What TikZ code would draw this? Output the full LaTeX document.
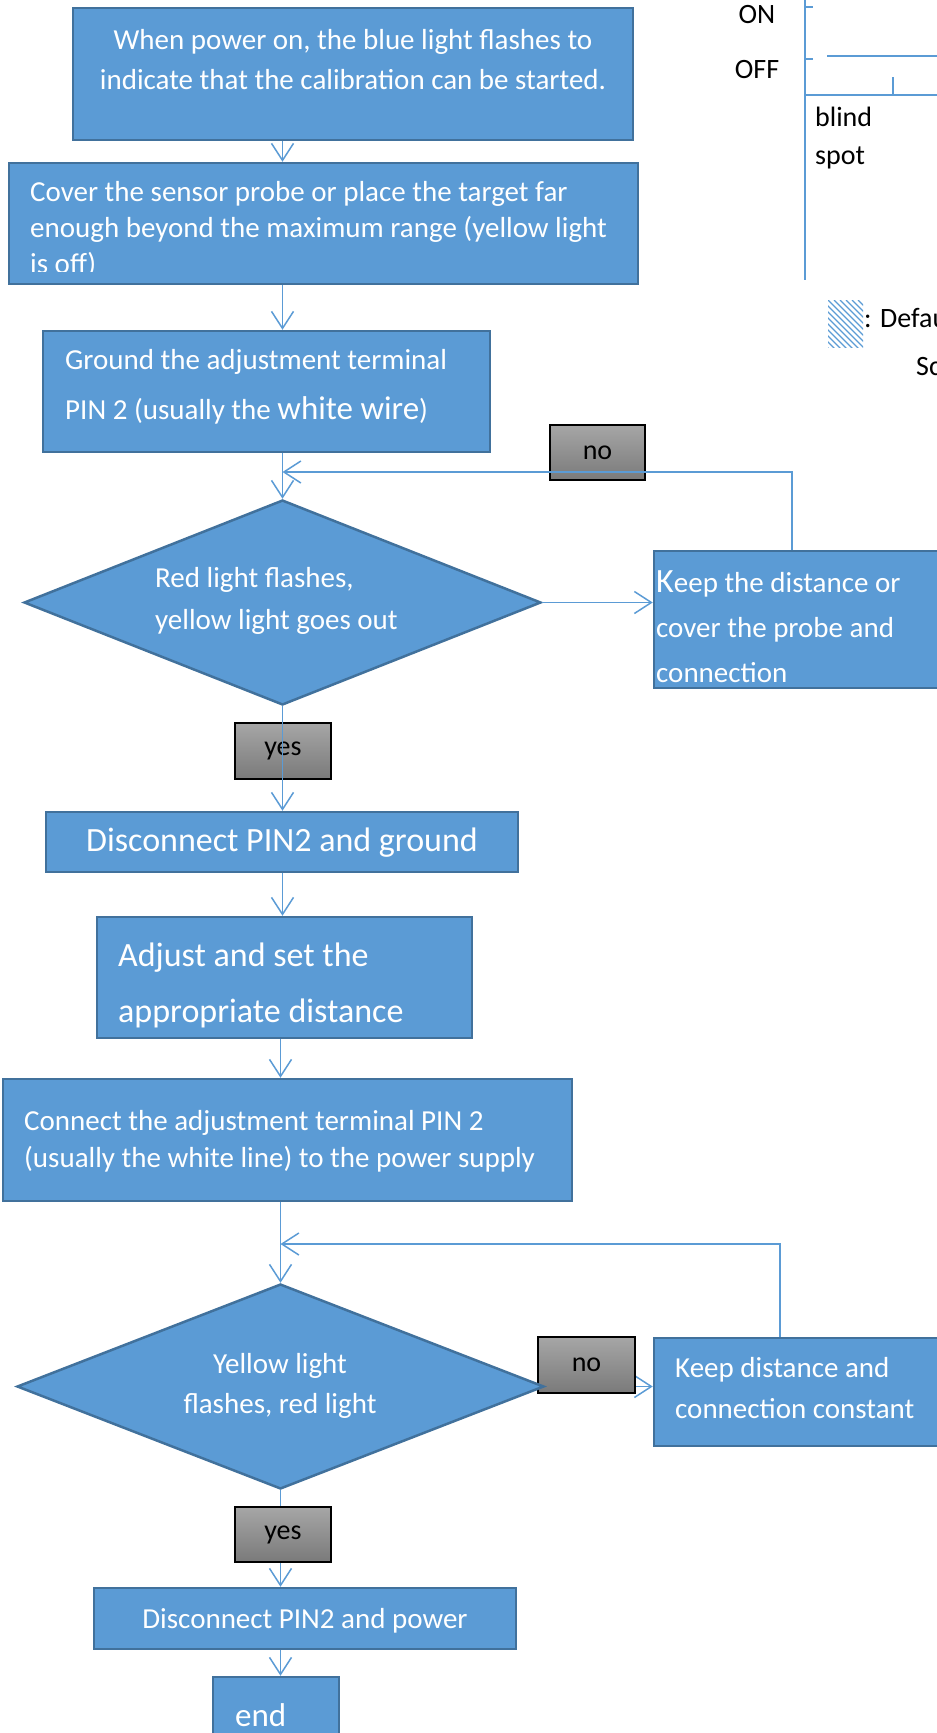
\documentclass[tikz,border=0pt]{standalone}
\usepackage{fontspec}
\setmainfont{Carlito}
\usetikzlibrary{arrows.meta,shapes.geometric,calc}
\definecolor{boxblue}{HTML}{5B9BD5}
\definecolor{boxedge}{HTML}{41719C}
\definecolor{gtop}{HTML}{A6A6A6}
\definecolor{gbot}{HTML}{7A7A7A}
\newcommand\fsz[2]{\fontsize{#1}{#2}\selectfont}
\pgfdeclarelayer{bg}
\pgfsetlayers{bg,main}
\tikzset{
 stepbox/.style={draw=boxedge, fill=boxblue, line width=2.5pt, inner sep=0pt},
 decbox/.style={stepbox, shape=diamond},
 lbl/.style={draw=black, line width=2pt, top color=gtop, bottom color=gbot, inner sep=0pt, font=\fsz{28}{34}, text=black},
 wtxt/.style={text=white, inner sep=0pt},
 btxt/.style={text=black, inner sep=0pt, font=\fsz{28}{34}},
 conn/.style={draw=boxblue, line width=1.5pt, -{Straight Barb[length=17pt,width=22pt,line width=1.5pt]}},
 plain/.style={draw=boxblue, line width=1.7pt},
}
\begin{document}
\begin{tikzpicture}[x=1pt,y=-1pt]
\useasboundingbox (0,0) rectangle (937,1733);
\clip (0,0) rectangle (937,1733);

% ---------- top-right chart fragment ----------
\draw[plain] (805,0) -- (805,280);
\draw[plain] (805,7) -- (813,7);
\draw[plain] (805,59) -- (813,59);
\draw[plain] (805,95) -- (945,95);
\draw[plain] (827,56) -- (945,56);
\draw[plain] (893,77) -- (893,95);
\node[btxt] (on) at (757,15) {ON};
\node[btxt] (off) at (757,70) {OFF};
\node[btxt, anchor=west] (blind) at (815,117) {blind};
\node[btxt, anchor=west] (spot) at (815,158) {spot};
\begin{scope}
\clip (828,300) rectangle (863,347);
\foreach \k in {-66,-60,...,40} \draw[boxblue, line width=1.2pt] (828+\k,300) -- ++(60,60);
\end{scope}
\node[btxt, anchor=west] (def) at (864,318) {: Default};
\node[btxt, anchor=west] (sc) at (916,367) {Sc};

% ---------- boxes ----------
\node[stepbox, minimum width=560pt, minimum height=132pt] (b1) at (353,74) {};
\node[wtxt, font=\fsz{29}{40}, align=center] (t1) at (353,60) {When power on, the blue light flashes to\\indicate that the calibration can be started.};

\node[stepbox, minimum width=629pt, minimum height=121pt] (b2) at (323.5,223.5) {};
\begin{scope}
\clip (9,163) rectangle (638,271.5);
\node[wtxt, font=\fsz{29}{36}, align=left, anchor=west] (t2) at (30,229) {Cover the sensor probe or place the target far\\enough beyond the maximum range (yellow light\\is off)};
\end{scope}

\node[stepbox, minimum width=447pt, minimum height=121pt] (b3) at (266.5,391.5) {};
\node[wtxt, font=\fsz{29}{50}, align=left, anchor=west] (t3) at (65,387) {Ground the adjustment terminal\\PIN 2 (usually the {\fsz{33}{50}white wire})};

\node[lbl, minimum width=95pt, minimum height=55pt] (no1) at (597.5,452.5) {no};

\node[decbox, minimum width=517pt, minimum height=205pt] (d1) at (282.5,602.5) {};
\node[wtxt, font=\fsz{29}{42}, align=left, anchor=west] (td1) at (155,601) {Red light flashes,\\yellow light goes out};

\node[stepbox, minimum width=291pt, minimum height=137pt] (k1) at (799.5,619.5) {};
\node[wtxt, font=\fsz{29}{45}, align=left, anchor=west] (tk1) at (656,627) {{\fsz{34}{45}K}eep the distance or\\cover the probe and\\connection};

\node[lbl, minimum width=96pt, minimum height=56pt] (yes1) at (283,751) {yes};

\node[stepbox, minimum width=472pt, minimum height=60pt] (b4) at (282,842) {};
\node[wtxt, font=\fsz{34}{40}] (t4) at (282,843) {Disconnect PIN2 and ground};

\node[stepbox, minimum width=375pt, minimum height=121pt] (b5) at (284.5,977.5) {};
\node[wtxt, font=\fsz{34}{56}, align=left, anchor=west] (t5) at (118,985) {Adjust and set the\\appropriate distance};

\node[stepbox, minimum width=569pt, minimum height=122pt] (b6) at (287.5,1140) {};
\node[wtxt, font=\fsz{29}{37}, align=left, anchor=west] (t6) at (24,1141) {Connect the adjustment terminal PIN 2\\(usually the white line) to the power supply};

\node[lbl, minimum width=97pt, minimum height=56pt] (no2) at (586.5,1365) {no};
\node[decbox, minimum width=527pt, minimum height=205pt] (d2) at (280.5,1386.5) {};
\node[wtxt, font=\fsz{29}{40}, align=center] (td2) at (280,1386) {Yellow light\\flashes, red light};

\node[stepbox, minimum width=291pt, minimum height=108pt] (k2) at (799.5,1392) {};
\node[wtxt, font=\fsz{29}{41}, align=left, anchor=west] (tk2) at (675,1388) {Keep distance and\\connection constant};

\node[lbl, minimum width=96pt, minimum height=55pt] (yes2) at (283,1534.5) {yes};

\node[stepbox, minimum width=422pt, minimum height=61pt] (b7) at (305,1618.5) {};
\node[wtxt, font=\fsz{29}{36}] (t7) at (305,1621) {Disconnect PIN2 and power};

\node[stepbox, minimum width=126pt, minimum height=68pt] (bend) at (276,1711) {};
\node[wtxt, font=\fsz{33}{40}, anchor=west] (tend) at (235,1715) {end};

% ---------- connectors ----------
\coordinate (j1) at (282.5,472);
\coordinate (j2) at (280.5,1244);
\draw[conn] (b1.south -| d1.north) -- (b2.north -| d1.north);
\draw[conn] (b2.south -| d1.north) -- (b3.north -| d1.north);
\draw[conn] (b3.south -| d1.north) -- (d1.north);
\draw[conn] (d1.east) -- (k1.west |- d1.east);
\draw[conn] ([xshift=-7.5pt]k1.north) |- (j1);
\draw[conn] (d1.south) -- (b4.north -| d1.south);
\draw[conn] (b4.south -| d1.south) -- (b5.north -| d1.south);
\draw[conn] (b5.south -| d2.north) -- (b6.north -| d2.north);
\draw[conn] (b6.south -| d2.north) -- (d2.north);
\draw[conn] ([xshift=-19.5pt]k2.north) |- (j2);
\begin{pgfonlayer}{bg}
\draw[conn] (d2.east) -- (k2.west |- d2.east);
\draw[conn] (d2.south) -- (b7.north -| d2.south);
\end{pgfonlayer}
\draw[conn] (b7.south -| d2.south) -- (bend.north -| d2.south);
\end{tikzpicture}
\end{document}
